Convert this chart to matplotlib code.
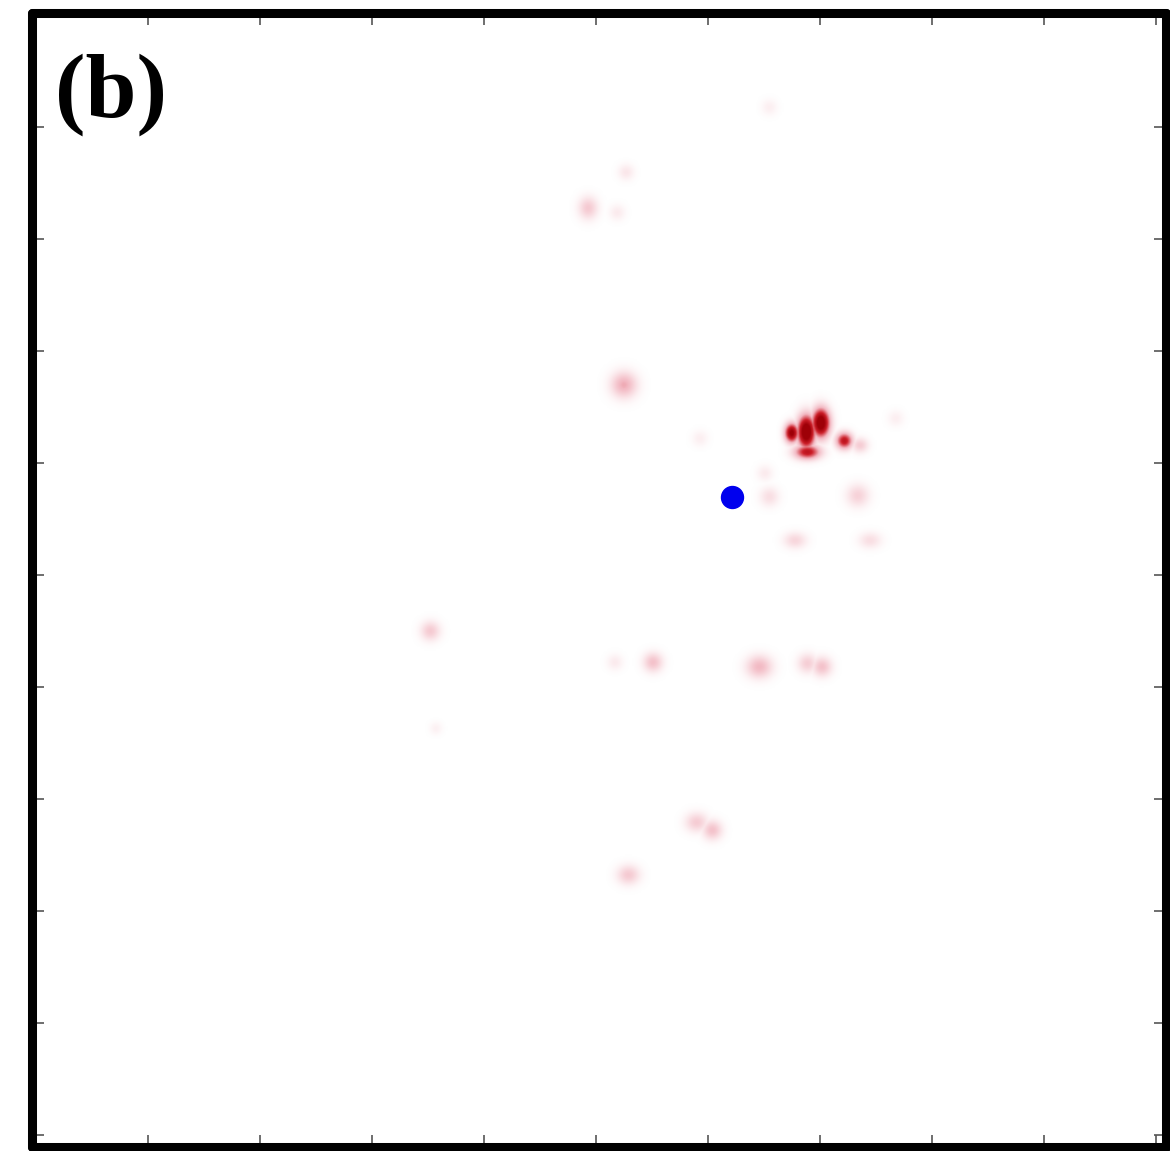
import numpy as np
import matplotlib
matplotlib.use("Agg")
import matplotlib.pyplot as plt
from matplotlib.colors import LinearSegmentedColormap

# blob centres / peak intensity / widths (axis units)
blob_x = [6.75, 6.88, 7.01, 6.89, 7.22, 7.36, 5.25, 4.93, 5.27, 5.19, 6.55,
          3.52, 5.51, 6.46, 6.89, 7.02, 5.90, 6.04, 5.29, 7.34, 6.55, 6.78,
          7.45, 5.93, 7.68, 3.57, 5.17, 6.51]
blob_y = [6.27, 6.28, 6.36, 6.10, 6.20, 6.16, 6.70, 8.28, 8.60, 8.24, 9.18,
          4.50, 4.22, 4.18, 4.21, 4.18, 2.79, 2.72, 2.32, 5.71, 5.70, 5.31,
          5.31, 6.22, 6.40, 3.63, 4.22, 5.91]
blob_amp = [1.05, 1.25, 1.20, 0.80, 0.80, 0.25, 0.38, 0.26, 0.12, 0.10, 0.08,
            0.26, 0.30, 0.34, 0.24, 0.30, 0.25, 0.30, 0.26, 0.22, 0.16, 0.20,
            0.16, 0.08, 0.08, 0.07, 0.10, 0.10]
blob_sx = [0.042, 0.054, 0.054, 0.08, 0.05, 0.05, 0.08, 0.06, 0.05, 0.05, 0.05,
           0.06, 0.06, 0.08, 0.06, 0.06, 0.07, 0.06, 0.07, 0.07, 0.06, 0.07,
           0.07, 0.05, 0.05, 0.04, 0.05, 0.05]
blob_sy = [0.058, 0.10, 0.088, 0.045, 0.05, 0.045, 0.08, 0.07, 0.05, 0.05, 0.05,
           0.06, 0.06, 0.07, 0.06, 0.06, 0.06, 0.06, 0.06, 0.07, 0.06, 0.05,
           0.05, 0.05, 0.05, 0.04, 0.05, 0.05]

# observer position (blue dot)
dot_x = [6.21]
dot_y = [5.70]

xx, yy = np.meshgrid(np.linspace(0, 10, 1000), np.linspace(0, 10, 1000))
field = np.zeros_like(xx)
for bx, by, a, sx, sy in zip(blob_x, blob_y, blob_amp, blob_sx, blob_sy):
    g = a * np.exp(-((xx - bx)**2 / (2*sx**2) + (yy - by)**2 / (2*sy**2)))
    field = np.maximum(field, g)
field = np.clip(field, 0, 1)

cmap = LinearSegmentedColormap.from_list(
    "wr", [(0, (1, 1, 1)), (0.35, (0.95, 0.72, 0.76)),
           (0.7, (0.80, 0.12, 0.16)), (1, (0.62, 0.0, 0.03))])

fig = plt.figure(figsize=(11.70, 11.51), dpi=100)
ax = fig.add_axes([31.5/1170, 4.5/1151, 1134/1170, 1134/1151])
ax.imshow(field, origin="lower", extent=[0, 10, 0, 10], cmap=cmap,
          vmin=0, vmax=1, interpolation="bilinear", aspect="auto")
ax.scatter(dot_x, dot_y, s=250, color="#0000ee", zorder=3)

ax.set_xlim(-0.040, 10.085)
ax.set_ylim(-0.103, 10.022)
ax.set_xticks(range(11))
ax.set_yticks(range(11))
ax.tick_params(direction="in", length=8.5, width=1.2, color="#555555",
               top=True, right=True, labelbottom=False, labelleft=False)
for sp in ax.spines.values():
    sp.set_linewidth(6.5)
    sp.set_color("black")
    sp.set_capstyle("round")

ax.text(0.021, 0.964, "(b)", transform=ax.transAxes, ha="left", va="top",
        fontsize=66, fontweight="bold", family="Liberation Serif")

fig.savefig("out.png", dpi=100)
